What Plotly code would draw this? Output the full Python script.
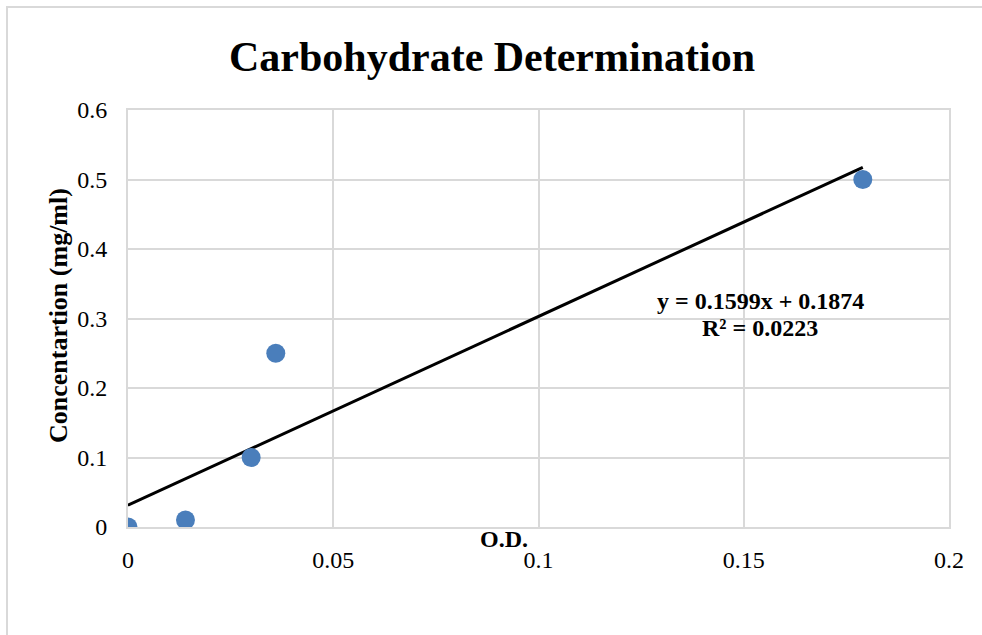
import numpy as np
import plotly.graph_objects as go

# Data
od = [0, 0.014, 0.03, 0.036, 0.179]
conc = [0, 0.01, 0.1, 0.25, 0.5]
x_ticks = [0, 0.05, 0.1, 0.15, 0.2]
y_ticks = [0, 0.1, 0.2, 0.3, 0.4, 0.5, 0.6]
equation_line = "y = 0.1599x + 0.1874"
r2_line = "R² = 0.0223"

# Linear trendline (least squares) spanning data range
slope, intercept = np.polyfit(od, conc, 1)
trend_x = [min(od), max(od)]
trend_y = [slope * v + intercept for v in trend_x]

SERIF = "Liberation Serif, Times New Roman, serif"
GRID = "#d9d9d9"
L, R, T, B = 128, 33, 110, 108
W, H = 982, 635
PW, PH = W - L - R, H - T - B


def px_x(px):
    return (px - L) / PW


def px_y(py):
    return (H - B - py) / PH


fig = go.Figure()
fig.add_trace(go.Scatter(
    x=trend_x, y=trend_y, mode="lines",
    line=dict(color="black", width=3), showlegend=False, hoverinfo="skip"))
fig.add_trace(go.Scatter(
    x=od, y=conc, mode="markers",
    marker=dict(size=19, color="#4A7EBB", line=dict(width=0)),
    showlegend=False))

fig.update_layout(
    width=W, height=H,
    margin=dict(l=L, r=R, t=T, b=B),
    paper_bgcolor="white", plot_bgcolor="white",
    font=dict(family=SERIF, size=24, color="black"),
    title=dict(text="Carbohydrate Determination", x=492 / W, xanchor="center",
               y=1 - 56 / H, yanchor="middle",
               font=dict(family=SERIF, size=42, color="black", weight="bold")),
    xaxis=dict(range=[0, 0.2], tickvals=x_ticks, ticktext=[f"{v:g}" for v in x_ticks],
               showgrid=True, gridcolor=GRID, gridwidth=1.5,
               showline=True, linecolor=GRID, linewidth=2, mirror=True,
               zeroline=False, ticks="", ticklabelstandoff=10,
               tickfont=dict(family=SERIF, size=24)),
    yaxis=dict(range=[0, 0.6], tickvals=y_ticks, ticktext=[f"{v:g}" for v in y_ticks],
               showgrid=True, gridcolor=GRID, gridwidth=1.5,
               showline=True, linecolor=GRID, linewidth=2, mirror=True,
               zeroline=False, ticks="", ticklabelstandoff=14,
               tickfont=dict(family=SERIF, size=24)),
)

# Outer chart border
fig.add_shape(type="rect", xref="paper", yref="paper",
              x0=px_x(7), y0=-0.6, x1=1.5, y1=px_y(7),
              line=dict(color=GRID, width=2), layer="below")

# Axis titles
fig.add_annotation(text="Concentartion (mg/ml)", xref="paper", yref="paper",
                   x=px_x(58), y=px_y(316), xanchor="center", yanchor="middle",
                   textangle=-90, showarrow=False,
                   font=dict(family=SERIF, size=26, weight="bold"))
fig.add_annotation(text="O.D.", xref="paper", yref="paper",
                   x=px_x(504), y=px_y(539), xanchor="center", yanchor="middle",
                   showarrow=False, font=dict(family=SERIF, size=24, weight="bold"))

# Trendline equation
fig.add_annotation(text=equation_line, xref="paper", yref="paper",
                   x=px_x(760), y=px_y(301), xanchor="center", yanchor="middle",
                   showarrow=False, font=dict(family=SERIF, size=24, weight="bold"))
fig.add_annotation(text=r2_line, xref="paper", yref="paper",
                   x=px_x(760), y=px_y(328), xanchor="center", yanchor="middle",
                   showarrow=False, font=dict(family=SERIF, size=24, weight="bold"))

fig.write_html("out.html")
